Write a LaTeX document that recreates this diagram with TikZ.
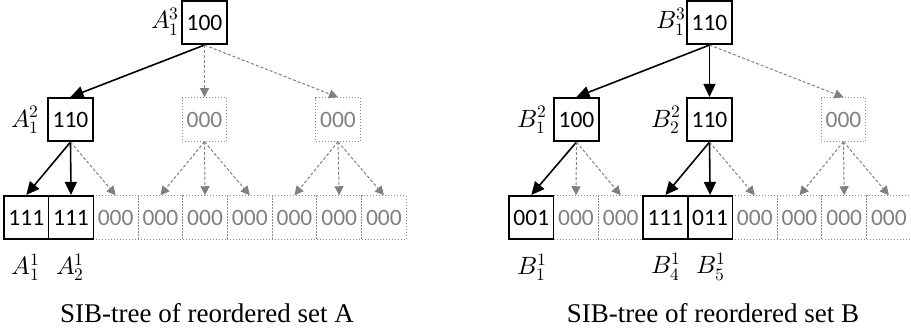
\documentclass[tikz,border=0pt]{standalone}
\usepackage{fontspec}
\usepackage{unicode-math}
\setmainfont{Carlito}
\setmathfont{Latin Modern Math}
\newfontfamily\capfont{Liberation Serif}
\usetikzlibrary{arrows.meta}
\definecolor{gr}{HTML}{808080}
\definecolor{grb}{HTML}{8C8C8C}
\tikzset{
  box/.style={draw=black,line width=1.6pt,minimum width=44.7pt,minimum height=43.5pt,inner sep=0pt,font=\fontsize{23.5}{27}\selectfont,text=black},
  gbox/.style={draw=grb,dotted,line width=1pt,minimum width=44.7pt,minimum height=43.5pt,inner sep=0pt,font=\fontsize{23.5}{27}\selectfont,text=gr},
  sarr/.style={-{Triangle[length=13pt,width=12pt]},line width=1.6pt,black},
  darr/.style={-{Triangle[length=9pt,width=9pt]},line width=1pt,gr,dash pattern=on 3pt off 2pt},
  lab/.style={inner sep=0pt,font=\fontsize{25}{29}\selectfont},
  captxt/.style={inner sep=0pt,font=\capfont\fontsize{27}{31}\selectfont}
}
\begin{document}
\begin{tikzpicture}[x=1pt,y=-1pt]
\useasboundingbox (0,0) rectangle (911,334);
% ---------- tree A ----------
\node[box] (ar) at (204.5,22.5) {100};
\node[box] (a2a) at (70.5,119.5) {110};
\node[gbox] (a2b) at (204.5,119.5) {000};
\node[gbox] (a2c) at (338,119.5) {000};
\foreach \i in {3,...,9}{
  \node[gbox] (al\i) at ({26.3+44.7*(\i-1)},217.5) {000};
}
\node[box] (al1) at (26.3,217.5) {111};
\node[box] (al2) at (71,217.5) {111};
\draw[sarr] (ar.south) -- (a2a.north);
\draw[darr] (ar.south) -- (a2b.north);
\draw[darr] (ar.south) -- (a2c.north);
\draw[sarr] (a2a.south) -- (al1.north);
\draw[sarr] (a2a.south) -- (al2.north);
\draw[darr] (a2a.south) -- (al3.north);
\draw[darr] (a2b.south) -- (al4.north);
\draw[darr] (a2b.south) -- (al5.north);
\draw[darr] (a2b.south) -- (al6.north);
\draw[darr] (a2c.south) -- (al7.north);
\draw[darr] (a2c.south) -- (al8.north);
\draw[darr] (a2c.south) -- (al9.north);
\node[lab] (lar) at (165,22) {$A_1^3$};
\node[lab] (la2) at (25,120) {$A_1^2$};
\node[lab] (la11) at (26,267) {$A_1^1$};
\node[lab] (la12) at (70,267) {$A_2^1$};
\node[captxt] (capa) at (207,313) {SIB-tree of reordered set A};
% ---------- tree B ----------
\begin{scope}[xshift=505pt]
\node[box] (br) at (204.5,22.5) {110};
\node[box] (b2a) at (71.5,119.5) {100};
\node[box] (b2b) at (204.5,119.5) {110};
\node[gbox] (b2c) at (338.5,119.5) {000};
\foreach \i in {2,3,6,7,8,9}{
  \node[gbox] (bl\i) at ({26.3+44.7*(\i-1)},217.5) {000};
}
\node[box] (bl1) at (26.3,217.5) {001};
\node[box] (bl4) at (160.4,217.5) {111};
\node[box] (bl5) at (205.1,217.5) {011};
\draw[sarr] (br.south) -- (b2a.north);
\draw[sarr] (br.south) -- (b2b.north);
\draw[darr] (br.south) -- (b2c.north);
\draw[sarr] (b2a.south) -- (bl1.north);
\draw[darr] (b2a.south) -- (bl2.north);
\draw[darr] (b2a.south) -- (bl3.north);
\draw[sarr] (b2b.south) -- (bl4.north);
\draw[sarr] (b2b.south) -- (bl5.north);
\draw[darr] (b2b.south) -- (bl6.north);
\draw[darr] (b2c.south) -- (bl7.north);
\draw[darr] (b2c.south) -- (bl8.north);
\draw[darr] (b2c.south) -- (bl9.north);
\node[lab] (lbr) at (166,22) {$B_1^3$};
\node[lab] (lb2a) at (27,120) {$B_1^2$};
\node[lab] (lb2b) at (161,120) {$B_2^2$};
\node[lab] (lb11) at (27,267) {$B_1^1$};
\node[lab] (lb14) at (161,267) {$B_4^1$};
\node[lab] (lb15) at (206,267) {$B_5^1$};
\node[captxt] (capb) at (208,313) {SIB-tree of reordered set B};
\end{scope}
\end{tikzpicture}
\end{document}
